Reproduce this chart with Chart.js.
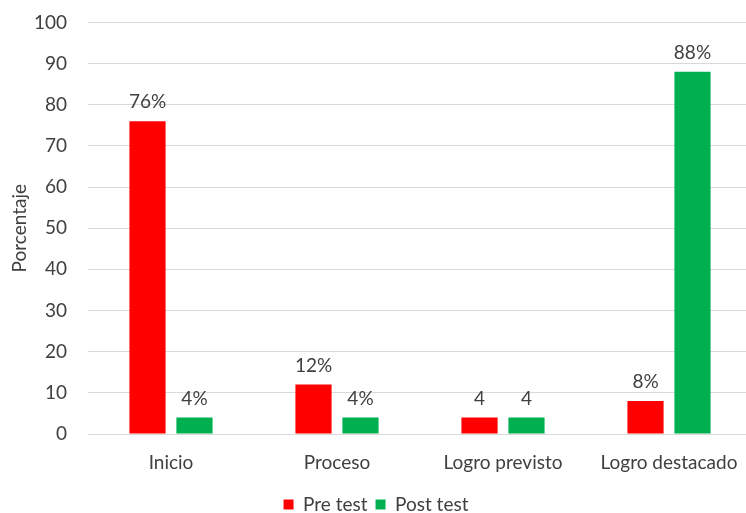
<!DOCTYPE html>
<html>
<head>
<meta charset="utf-8">
<script src="https://cdn.jsdelivr.net/npm/chart.js@4/dist/chart.umd.min.js"></script>
<style>
  html, body { margin: 0; padding: 0; background: #fff; overflow: hidden; }
  #wrap { width: 752px; height: 534px; margin-top: -10px; position: relative; }
</style>
</head>
<body>
<div id="wrap"><canvas id="c"></canvas></div>
<script>
// Niveles de logro: porcentaje de estudiantes en pre test y post test
const categories = ['Inicio', 'Proceso', 'Logro previsto', 'Logro destacado'];
const preTest = [76, 12, 4, 8];
const postTest = [4, 4, 4, 88];
// Sufijo de cada etiqueta de dato
const preSuffix = ['%', '%', '', '%'];
const postSuffix = ['%', '%', '', '%'];
const yTicks = [0, 10, 20, 30, 40, 50, 60, 70, 80, 90, 100];

const FONT = 'Lato, "Open Sans", sans-serif';
const TEXT = '#404040';
const SIZE = 19;

const valueLabels = {
  id: 'valueLabels',
  afterDatasetsDraw(chart) {
    const ctx = chart.ctx;
    const suffixes = [preSuffix, postSuffix];
    ctx.save();
    ctx.font = SIZE + 'px ' + FONT;
    ctx.fillStyle = TEXT;
    ctx.textAlign = 'center';
    ctx.textBaseline = 'alphabetic';
    chart.data.datasets.forEach((ds, di) => {
      chart.getDatasetMeta(di).data.forEach((bar, i) => {
        ctx.fillText(ds.data[i] + suffixes[di][i], bar.x, bar.y - 13);
      });
    });
    ctx.restore();
  }
};

new Chart(document.getElementById('c'), {
  type: 'bar',
  data: {
    labels: categories,
    datasets: [
      { label: 'Pre test', data: preTest, backgroundColor: '#ff0000' },
      { label: 'Post test', data: postTest, backgroundColor: '#00b050' }
    ]
  },
  options: {
    responsive: true,
    maintainAspectRatio: false,
    animation: false,
    categoryPercentage: 0.566,
    barPercentage: 0.77,
    layout: { padding: { top: 1, bottom: 0, left: 0, right: 0 } },
    plugins: {
      legend: {
        position: 'bottom',
        labels: {
          font: { family: FONT, size: SIZE },
          color: TEXT,
          boxWidth: 10,
          boxHeight: 10,
          padding: 8
        }
      },
      tooltip: { enabled: false }
    },
    scales: {
      x: {
        grid: { display: false },
        border: { display: false },
        ticks: { font: { family: FONT, size: SIZE }, color: TEXT, padding: 9 },
        afterFit(scale) { scale.height = 53; }
      },
      y: {
        min: 0,
        max: 100,
        afterBuildTicks(scale) { scale.ticks = yTicks.map(v => ({ value: v })); },
        grid: { color: '#d9d9d9', drawTicks: false },
        border: { display: false },
        ticks: { font: { family: FONT, size: SIZE }, color: TEXT, padding: 21 },
        title: {
          display: true,
          text: 'Porcentaje',
          font: { family: FONT, size: SIZE },
          color: TEXT,
          padding: { top: 8, bottom: 0 }
        },
        afterFit(scale) { scale.width = 88; }
      }
    }
  },
  plugins: [valueLabels]
});
</script>
</body>
</html>
